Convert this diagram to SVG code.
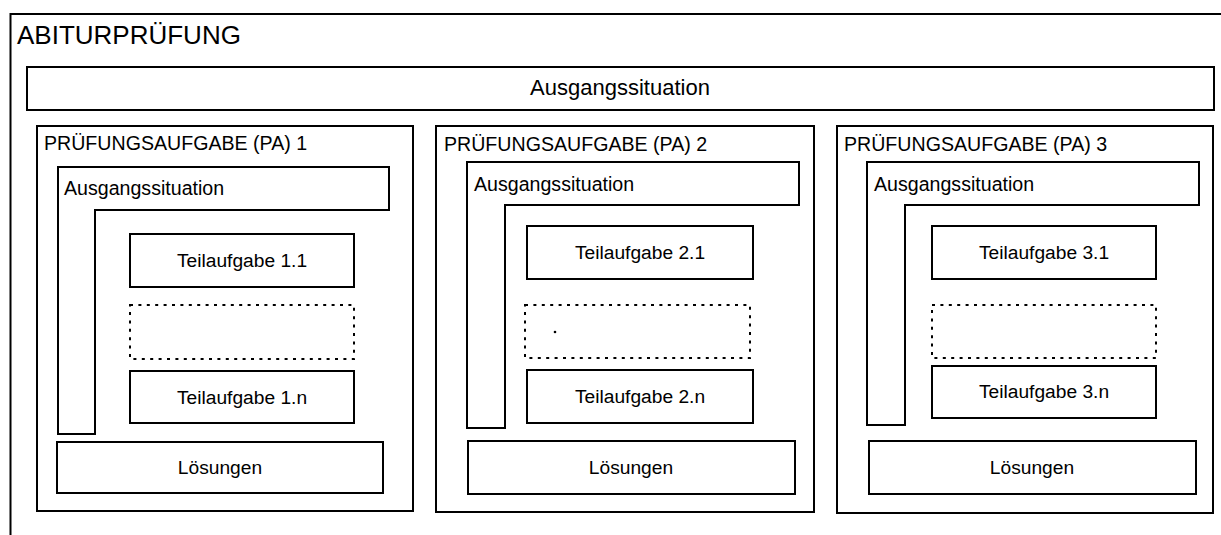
<svg xmlns="http://www.w3.org/2000/svg" width="1221" height="535" viewBox="0 0 1221 535">
<style>
.b{fill:#fff;stroke:#000;stroke-width:2}
.d{fill:none;stroke:#000;stroke-width:2;stroke-dasharray:3 5.4}
text{font-family:"Liberation Sans",Arial,sans-serif;fill:#000}
.t{font-size:19.6px}
.c{font-size:19.2px;text-anchor:middle}
</style>
<rect width="1221" height="535" fill="#fff"/>
<g id="abitur">
<rect class="b" x="10.5" y="14" width="1230" height="540"/>
<text x="17" y="44" style="font-size:26px">ABITURPRÜFUNG</text>
</g>
<g id="ausgang">
<rect class="b" x="27" y="67" width="1187" height="43"/>
<text x="620" y="95" style="font-size:22px;text-anchor:middle">Ausgangssituation</text>
</g>
<g id="pa1">
<rect class="b" x="37" y="126" width="376" height="385"/>
<text class="t" x="44" y="150">PRÜFUNGSAUFGABE (PA) 1</text>
<path class="b" d="M58,167 H389 V210 H95 V434 H58 Z"/>
<text class="t" x="64" y="195">Ausgangssituation</text>
<rect class="b" x="130" y="234" width="224" height="53"/>
<text class="c" x="242" y="267">Teilaufgabe 1.1</text>
<rect class="d" x="130" y="305" width="224" height="54"/>
<rect class="b" x="130" y="371" width="224" height="52"/>
<text class="c" x="242" y="404">Teilaufgabe 1.n</text>
<rect class="b" x="57" y="442" width="326" height="51"/>
<text class="c" x="220" y="474">Lösungen</text>
</g>
<g id="pa2">
<rect class="b" x="436" y="126" width="378" height="386"/>
<text class="t" x="444" y="151">PRÜFUNGSAUFGABE (PA) 2</text>
<path class="b" d="M467,162 H799 V205 H505 V428 H467 Z"/>
<text class="t" x="474" y="191">Ausgangssituation</text>
<rect class="b" x="527" y="226" width="226" height="53"/>
<text class="c" x="640" y="259">Teilaufgabe 2.1</text>
<rect class="d" x="525" y="305" width="225" height="53"/>
<circle cx="555" cy="332" r="1.3" fill="#000"/>
<rect class="b" x="527" y="370" width="226" height="53"/>
<text class="c" x="640" y="403">Teilaufgabe 2.n</text>
<rect class="b" x="468" y="441" width="327" height="53"/>
<text class="c" x="631" y="474">Lösungen</text>
</g>
<g id="pa3">
<rect class="b" x="837" y="126" width="376" height="387"/>
<text class="t" x="844" y="151">PRÜFUNGSAUFGABE (PA) 3</text>
<path class="b" d="M867,162 H1199 V205 H905 V425 H867 Z"/>
<text class="t" x="874" y="191">Ausgangssituation</text>
<rect class="b" x="932" y="226" width="224" height="53"/>
<text class="c" x="1044" y="259">Teilaufgabe 3.1</text>
<rect class="d" x="932" y="305" width="224" height="53"/>
<rect class="b" x="932" y="366" width="224" height="52"/>
<text class="c" x="1044" y="398">Teilaufgabe 3.n</text>
<rect class="b" x="869" y="441" width="327" height="53"/>
<text class="c" x="1032" y="474">Lösungen</text>
</g>
<g id="connectors"/>
</svg>
